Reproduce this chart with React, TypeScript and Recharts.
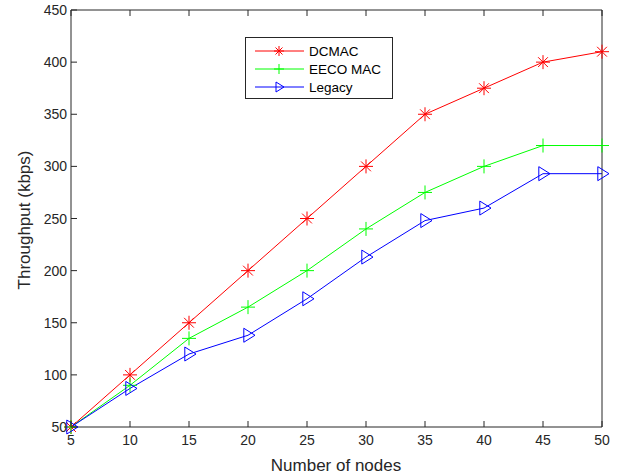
import { LineChart, Line, XAxis, YAxis } from 'recharts';

const nodes = [5, 10, 15, 20, 25, 30, 35, 40, 45, 50];
const dcmac = [50, 100, 150, 200, 250, 300, 350, 375, 400, 410];
const eecoMac = [50, 90, 135, 165, 200, 240, 275, 300, 320, 320];
const legacy = [50, 87, 120, 138, 173, 213, 248, 260, 293, 293];

const xTicks = [5, 10, 15, 20, 25, 30, 35, 40, 45, 50];
const yTicks = [50, 100, 150, 200, 250, 300, 350, 400, 450];

const AXIS = '#262626';
const FONT = '"Liberation Sans", Arial, sans-serif';

const data = nodes.map((n, i) => ({
  n,
  dcmac: dcmac[i],
  eeco: eecoMac[i],
  legacy: legacy[i],
}));

type MarkProps = { cx: number; cy: number; color: string; r?: number };

// marker shapes, MATLAB style
function Star({ cx, cy, color, r = 7 }: MarkProps) {
  const d = r * 0.7;
  return (
    <g stroke={color} strokeWidth={1} fill="none">
      <line x1={cx - r} y1={cy} x2={cx + r} y2={cy} />
      <line x1={cx} y1={cy - r} x2={cx} y2={cy + r} />
      <line x1={cx - d} y1={cy - d} x2={cx + d} y2={cy + d} />
      <line x1={cx - d} y1={cy + d} x2={cx + d} y2={cy - d} />
    </g>
  );
}

function Plus({ cx, cy, color, r = 7 }: MarkProps) {
  return (
    <g stroke={color} strokeWidth={1} fill="none">
      <line x1={cx - r} y1={cy} x2={cx + r} y2={cy} />
      <line x1={cx} y1={cy - r} x2={cx} y2={cy + r} />
    </g>
  );
}

function Tri({ cx, cy, color, r = 7 }: MarkProps) {
  return (
    <polygon
      points={`${cx - r * 0.6},${cy - r} ${cx + r},${cy} ${cx - r * 0.6},${cy + r}`}
      stroke={color}
      strokeWidth={1}
      fill="none"
    />
  );
}

const dotFor = (Shape: any, color: string) => (props: any) =>
  props.cx == null ? <g key={props.index} /> : <Shape key={props.index} cx={props.cx} cy={props.cy} color={color} />;

// inward ticks
function LeftTick({ x, y, payload }: any) {
  return (
    <g>
      <line x1={x} y1={y} x2={x + 6} y2={y} stroke={AXIS} />
      <text x={x - 4} y={y + 5} textAnchor="end" fontSize={14} fill={AXIS} fontFamily={FONT}>
        {payload.value}
      </text>
    </g>
  );
}
function RightTick({ x, y }: any) {
  return <line x1={x} y1={y} x2={x - 6} y2={y} stroke={AXIS} />;
}
function BottomTick({ x, y, payload }: any) {
  return (
    <g>
      <line x1={x} y1={y} x2={x} y2={y - 6} stroke={AXIS} />
      <text x={x} y={y + 18} textAnchor="middle" fontSize={14} fill={AXIS} fontFamily={FONT}>
        {payload.value}
      </text>
    </g>
  );
}
function TopTick({ x, y }: any) {
  return <line x1={x} y1={y} x2={x} y2={y + 6} stroke={AXIS} />;
}

const legendItems = [
  { name: 'DCMAC', color: '#ff0000', Shape: Star },
  { name: 'EECO MAC', color: '#00ff00', Shape: Plus },
  { name: 'Legacy', color: '#0000ff', Shape: Tri },
];

function LegendBox({ x, y }: { x: number; y: number }) {
  return (
    <g transform={`translate(${x},${y})`}>
      <rect x={0.5} y={0.5} width={147} height={61} fill="#fff" stroke={AXIS} />
      {legendItems.map((it, i) => {
        const ry = 14 + i * 18;
        return (
          <g key={it.name}>
            <line x1={10} y1={ry} x2={59} y2={ry} stroke={it.color} />
            <it.Shape cx={34} cy={ry} color={it.color} r={5} />
            <text x={64} y={ry + 5} fontSize={13.5} fill="#000" fontFamily={FONT}>
              {it.name}
            </text>
          </g>
        );
      })}
    </g>
  );
}

export default function App() {
  return (
    <div style={{ position: 'absolute', left: 0, top: 0, width: 622, height: 476, background: '#fff' }}>
      <LineChart width={622} height={476} data={data} margin={{ top: 9, right: 19, bottom: 48, left: 70 }}>
        <XAxis
          xAxisId="b"
          dataKey="n"
          type="number"
          domain={[5, 50]}
          ticks={xTicks}
          height={1}
          tickSize={0}
          tickMargin={0}
          axisLine={{ stroke: AXIS }}
          tick={<BottomTick />}
          interval={0}
        />
        <XAxis
          xAxisId="t"
          orientation="top"
          dataKey="n"
          type="number"
          domain={[5, 50]}
          ticks={xTicks}
          height={1}
          tickSize={0}
          tickMargin={0}
          axisLine={{ stroke: AXIS }}
          tick={<TopTick />}
          interval={0}
        />
        <YAxis
          yAxisId="l"
          type="number"
          domain={[50, 450]}
          ticks={yTicks}
          width={1}
          tickSize={0}
          tickMargin={0}
          axisLine={{ stroke: AXIS }}
          tick={<LeftTick />}
          interval={0}
        />
        <YAxis
          yAxisId="r"
          orientation="right"
          type="number"
          domain={[50, 450]}
          ticks={yTicks}
          width={1}
          tickSize={0}
          tickMargin={0}
          axisLine={{ stroke: AXIS }}
          tick={<RightTick />}
          interval={0}
        />
        <Line xAxisId="b" yAxisId="l" dataKey="dcmac" name="DCMAC" stroke="#ff0000" strokeWidth={1} dot={dotFor(Star, '#ff0000')} isAnimationActive={false} />
        <Line xAxisId="b" yAxisId="l" dataKey="eeco" name="EECO MAC" stroke="#00ff00" strokeWidth={1} dot={dotFor(Plus, '#00ff00')} isAnimationActive={false} />
        <Line xAxisId="b" yAxisId="l" dataKey="legacy" name="Legacy" stroke="#0000ff" strokeWidth={1} dot={dotFor(Tri, '#0000ff')} isAnimationActive={false} />
        <LegendBox x={245} y={37} />
        <text x={336} y={471} textAnchor="middle" fontSize={17} fill={AXIS} fontFamily={FONT}>
          Number of nodes
        </text>
        <text
          x={30}
          y={220}
          textAnchor="middle"
          fontSize={17}
          fill={AXIS}
          fontFamily={FONT}
          transform="rotate(-90 30 220)"
        >
          Throughput (kbps)
        </text>
      </LineChart>
    </div>
  );
}
